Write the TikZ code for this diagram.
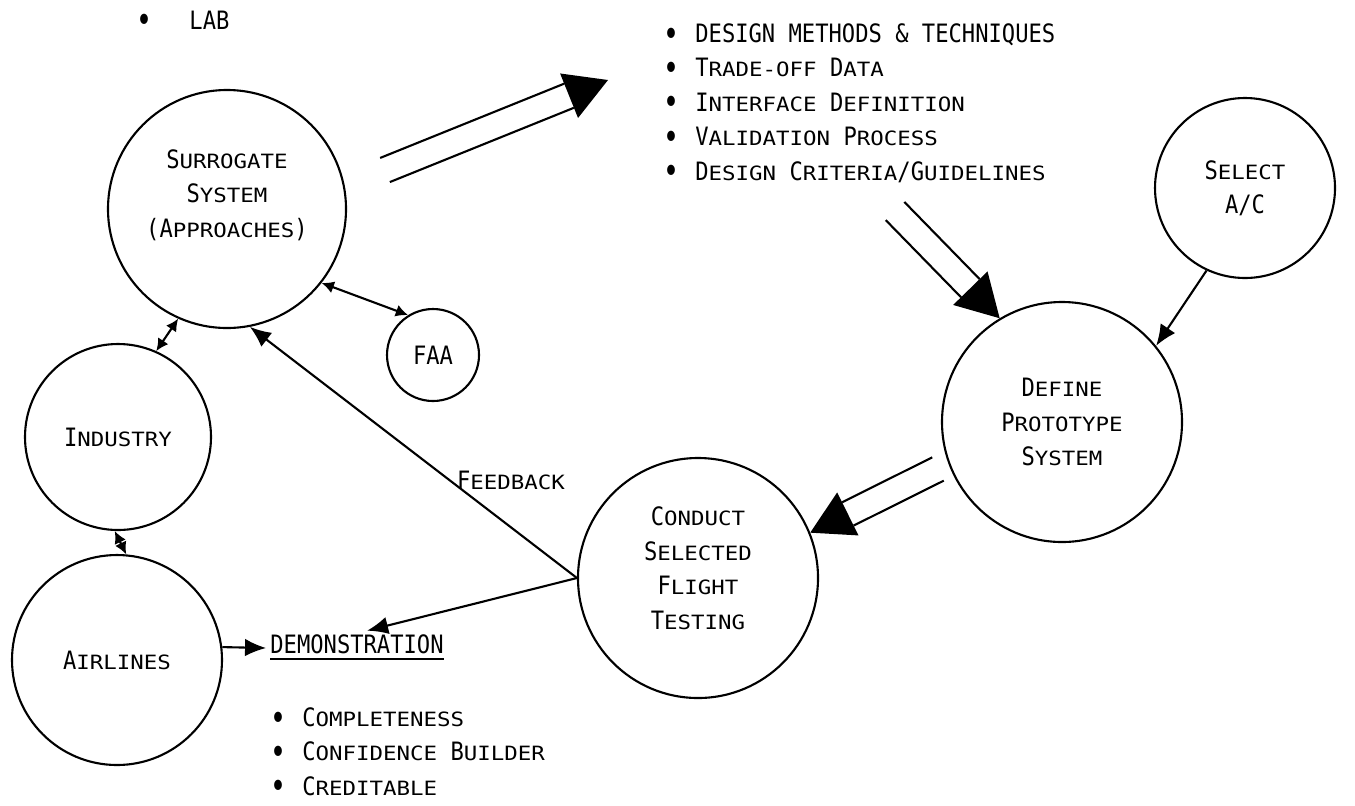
\documentclass[tikz,border=0pt]{standalone}
\usepackage{fontspec}
\usepackage{graphicx}
\setmainfont[FakeStretch=0.875]{DejaVu Sans Mono}
\newfontfamily\smallcapsfont[FakeStretch=1.14]{DejaVu Sans Mono}
\usetikzlibrary{arrows.meta,calc}
\newcommand{\lc}[1]{{\fontsize{5.6}{9.8}\smallcapsfont #1}}
\newcommand{\bigdot}{\raisebox{-0.14em}{\scalebox{1.2}[1.4]{\textbullet}}}
\newcommand{\itm}{\makebox[9pt][l]{\bigdot}}
% double-line arrow with a filled head
\newcommand{\flowarrow}[2]{%
    \coordinate (fb) at ($(#2)!0.42cm!(#1)$);
    \draw [flowline] ($(#1)!0.13cm!90:(#2)$) -- ($(fb)!0.13cm!-90:(#1)$);
    \draw [flowline] ($(#1)!0.13cm!-90:(#2)$) -- ($(fb)!0.13cm!90:(#1)$);
    \fill ($(#2)$) -- ($(fb)!0.24cm!90:(#2)$) -- ($(fb)!0.24cm!-90:(#2)$) -- cycle;}

\begin{document}
\begin{tikzpicture}[
    font=\fontsize{7.2}{9.8}\selectfont,
    stage/.style={circle, draw, line width=0.6pt, align=center, inner sep=0pt},
    link/.style={-{Latex[length=6pt,width=5pt]}, line width=0.6pt},
    twoway/.style={{Latex[length=3.5pt,width=3.5pt]}-{Latex[length=3.5pt,width=3.5pt]}, line width=0.6pt},
    flowline/.style={line width=0.6pt},
    ]
    \useasboundingbox (0,0) rectangle (13.55,-8.05);

    % Circles
    \node [stage, minimum size=2.38cm, text depth=0.31cm] (surr) at (2.27,-2.09) {S\lc{URROGATE}\\S\lc{YSTEM}\\(A\lc{PPROACHES})};
    \node [stage, minimum size=0.92cm] (faa) at (4.33,-3.55) {FAA};
    \node [stage, minimum size=1.86cm] (ind) at (1.18,-4.37) {I\lc{NDUSTRY}};
    \node [stage, minimum size=2.10cm] (air) at (1.17,-6.60) {A\lc{IRLINES}};
    \node [stage, minimum size=2.40cm, text depth=0.2cm] (conduct) at (6.98,-5.78) {C\lc{ONDUCT}\\S\lc{ELECTED}\\F\lc{LIGHT}\\T\lc{ESTING}};
    \node [stage, minimum size=2.40cm] (define) at (10.62,-4.22) {D\lc{EFINE}\\P\lc{ROTOTYPE}\\S\lc{YSTEM}};
    \node [stage, minimum size=1.80cm] (select) at (12.45,-1.88) {S\lc{ELECT}\\A/C};

    % Texts
    \node [anchor=west, inner sep=0pt] (lab) at (1.36,-0.22) {\makebox[15pt][l]{\bigdot}LAB};
    \node [anchor=north west, align=left, inner sep=0pt] (results) at (6.63,-0.23)
        {\itm DESIGN METHODS \& TECHNIQUES\\
         \itm T\lc{RADE-OFF} D\lc{ATA}\\
         \itm I\lc{NTERFACE} D\lc{EFINITION}\\
         \itm V\lc{ALIDATION} P\lc{ROCESS}\\
         \itm D\lc{ESIGN} C\lc{RITERIA}/G\lc{UIDELINES}};
    \node [inner sep=1pt] (demo) at (3.57,-6.48) {\underline{DEMONSTRATION}};
    \node [anchor=north west, align=left, inner sep=0pt] (goals) at (2.70,-7.07)
        {\itm C\lc{OMPLETENESS}\\
         \itm C\lc{ONFIDENCE} B\lc{UILDER}\\
         \itm C\lc{REDITABLE}};
    \node (feedback) at (5.11,-4.80) {F\lc{EEDBACK}};

    % Big double arrows
    \coordinate (a1s) at (3.85,-1.70);
    \coordinate (a1e) at (6.08,-0.80);
    \coordinate (a2s) at (8.95,-2.11);
    \coordinate (a3s) at (9.38,-4.69);
    \flowarrow{a1s}{a1e}
    \flowarrow{a2s}{define.121}
    \flowarrow{a3s}{conduct.22}

    % Thin arrows
    \draw [twoway] (surr.-38) -- (faa.122);
    \draw [twoway] (surr.-114) -- (ind.66);
    \draw [twoway] (ind.-92) -- (air.85);
    \draw [link] (select.-115) -- (define.39);
    \draw [link] (conduct.180) -- (surr.-79);
    \draw [link] (conduct.180) -- ([xshift=1mm]demo.north);
    \draw [link] (air.7) -- (demo.west);

\end{tikzpicture}
\end{document}
